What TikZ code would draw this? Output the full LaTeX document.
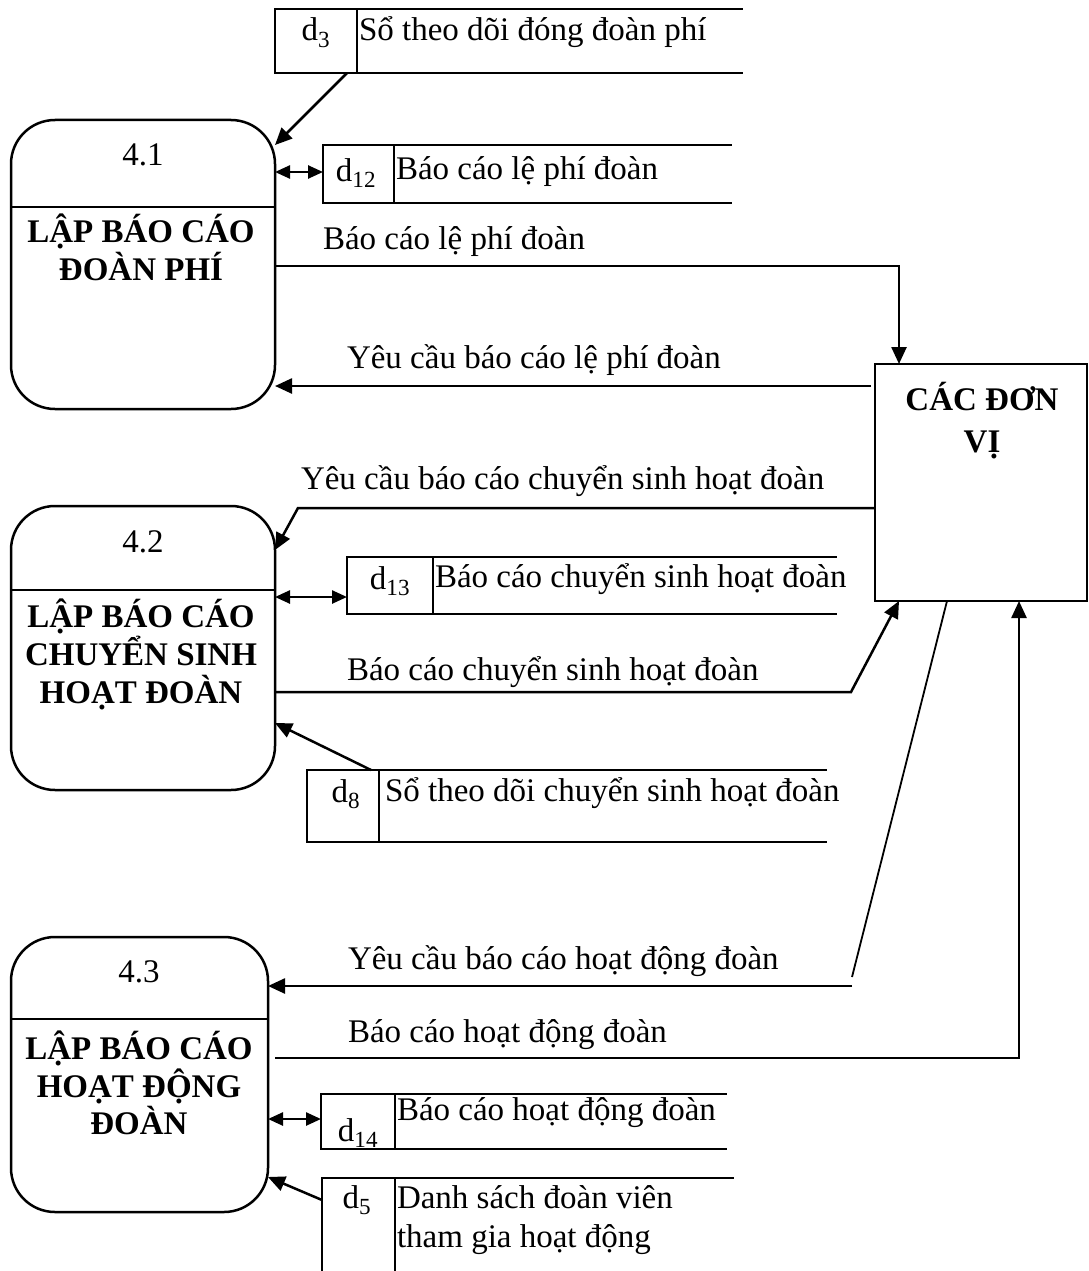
\documentclass[tikz,border=0pt]{standalone}
\usepackage{fontspec}
\setmainfont{Liberation Serif}
\usetikzlibrary{arrows.meta}
\begin{document}
\begin{tikzpicture}[x=1pt,y=-1pt,
  line width=2.5pt,
  every node/.style={font=\fontsize{33}{38}\selectfont, inner sep=0pt, outer sep=0pt},
  proc/.style={draw, rounded corners=44pt, line width=2.5pt, anchor=north west},
  idcell/.style={draw, line width=2.5pt, anchor=north west},
  entity/.style={draw, line width=2.5pt, anchor=north west},
  arr/.style={-{Triangle[length=17pt,width=15pt]}},
  darr/.style={{Triangle[length=15pt,width=13pt]}-{Triangle[length=15pt,width=13pt]}},
  lbl/.style={anchor=base west},
  ptitle/.style={font=\fontsize{33}{38}\selectfont\bfseries, anchor=base},
]
\useasboundingbox (0,0) rectangle (1088,1271);

% ---------- processes ----------
\node[proc, minimum width=264pt, minimum height=289pt] (p41) at (11,120) {};
\draw (p41.west |- 0,207) -- (p41.east |- 0,207);
\node[anchor=base] (p41n) at (143,165) {4.1};
\node[ptitle] (p41a) at (141,242) {LẬP BÁO CÁO};
\node[ptitle] (p41b) at (141,280) {ĐOÀN PHÍ};

\node[proc, minimum width=264pt, minimum height=284pt] (p42) at (11,506) {};
\draw (p42.west |- 0,590) -- (p42.east |- 0,590);
\node[anchor=base] (p42n) at (143,552) {4.2};
\node[ptitle] (p42a) at (141,627) {LẬP BÁO CÁO};
\node[ptitle] (p42b) at (141,665) {CHUYỂN SINH};
\node[ptitle] (p42c) at (141,703) {HOẠT ĐOÀN};

\node[proc, minimum width=257pt, minimum height=275pt] (p43) at (11,937) {};
\draw (p43.west |- 0,1019) -- (p43.east |- 0,1019);
\node[anchor=base] (p43n) at (139,982) {4.3};
\node[ptitle] (p43a) at (139,1059) {LẬP BÁO CÁO};
\node[ptitle] (p43b) at (139,1097) {HOẠT ĐỘNG};
\node[ptitle] (p43c) at (139,1134) {ĐOÀN};

% ---------- external entity ----------
\node[entity, minimum width=212pt, minimum height=237pt] (dv) at (875,364) {};
\node[ptitle] (dva) at (982,410) {CÁC ĐƠN};
\node[ptitle] (dvb) at (982,452) {VỊ};

% ---------- data stores ----------
\node[idcell, minimum width=82pt, minimum height=64pt] (s3) at (275,9) {};
\draw (s3.north east) -- ++(386,0) (s3.south east) -- ++(386,0);
\node[anchor=base] (s3id) at (316,41) {d\textsubscript{3}};
\node[lbl] (s3t) at (359,41) {Sổ theo dõi đóng đoàn phí};

\node[idcell, minimum width=71pt, minimum height=58pt] (s12) at (323,145) {};
\draw (s12.north east) -- ++(338,0) (s12.south east) -- ++(338,0);
\node[anchor=base] (s12id) at (356,181) {d\textsubscript{12}};
\node[lbl] (s12t) at (396,179) {Báo cáo lệ phí đoàn};

\node[idcell, minimum width=86pt, minimum height=57pt] (s13) at (347,557) {};
\draw (s13.north east) -- ++(404,0) (s13.south east) -- ++(404,0);
\node[anchor=base] (s13id) at (390,589) {d\textsubscript{13}};
\node[lbl] (s13t) at (435,587) {Báo cáo chuyển sinh hoạt đoàn};

\node[idcell, minimum width=72pt, minimum height=72pt] (s8) at (307,770) {};
\draw (s8.north east) -- ++(448,0) (s8.south east) -- ++(448,0);
\node[anchor=base] (s8id) at (346,802) {d\textsubscript{8}};
\node[lbl] (s8t) at (385,801) {Sổ theo dõi chuyển sinh hoạt đoàn};

\node[idcell, minimum width=74pt, minimum height=55pt] (s14) at (321,1094) {};
\draw (s14.north east) -- ++(332,0) (s14.south east) -- ++(332,0);
\node[anchor=base] (s14id) at (358,1141) {d\textsubscript{14}};
\node[lbl] (s14t) at (397,1120) {Báo cáo hoạt động đoàn};

\node[anchor=north west, minimum width=73pt, minimum height=93pt] (s5) at (322,1178) {};
\draw (s5.south west) -- (s5.north west) -- ++(412,0);
\draw (s5.north east) -- (s5.south east);
\node[anchor=base] (s5id) at (357,1208) {d\textsubscript{5}};
\node[lbl] (s5t1) at (397,1208) {Danh sách đoàn viên};
\node[lbl] (s5t2) at (397,1247) {tham gia hoạt động};

% ---------- flows of 4.1 ----------
\draw[arr] ([xshift=-10pt]s3.south east) -- (p41.east |- 0,145);
\draw[darr] (p41.east |- 0,172) -- (s12.west |- 0,172);
\node[lbl] (f1) at (323,249) {Báo cáo lệ phí đoàn};
\draw[arr] (p41.east |- 0,266) -| ([xshift=24pt]dv.north west);
\node[lbl] (f2) at (347,368) {Yêu cầu báo cáo lệ phí đoàn};
\draw[arr] ([xshift=-4pt]dv.west |- 0,386) -- (p41.east |- 0,386);

% ---------- flows of 4.2 ----------
\node[lbl] (f3) at (301,489) {Yêu cầu báo cáo chuyển sinh hoạt đoàn};
\coordinate (k42) at (298,508);
\draw[arr] (dv.west |- 0,508) -- (k42) -- (p42.east |- 0,550);
\draw[darr] (p42.east |- 0,597) -- (s13.west |- 0,597);
\node[lbl] (f4) at (347,680) {Báo cáo chuyển sinh hoạt đoàn};
\coordinate (k42b) at (851,692);
\draw[arr] (p42.east |- 0,692) -- (k42b) -- ([xshift=24pt]dv.south west);
\draw[arr] ([xshift=-8pt]s8.north east) -- (p42.east |- 0,723);

% ---------- flows of 4.3 ----------
\node[lbl] (f5) at (348,969) {Yêu cầu báo cáo hoạt động đoàn};
\coordinate (k43) at (852,986);
\draw[line width=1.8pt] ([xshift=72pt]dv.south west) -- (852,977);
\draw[arr] (k43) -- (p43.east |- 0,986);
\node[lbl] (f6) at (348,1042) {Báo cáo hoạt động đoàn};
\draw[arr] ([xshift=7pt]p43.east |- 0,1058) -| ([xshift=144pt]dv.south west);
\draw[darr] (p43.east |- 0,1119) -- (s14.west |- 0,1119);
\draw[arr] (s5.west |- 0,1200) -- (p43.east |- 0,1177);
\end{tikzpicture}
\end{document}
